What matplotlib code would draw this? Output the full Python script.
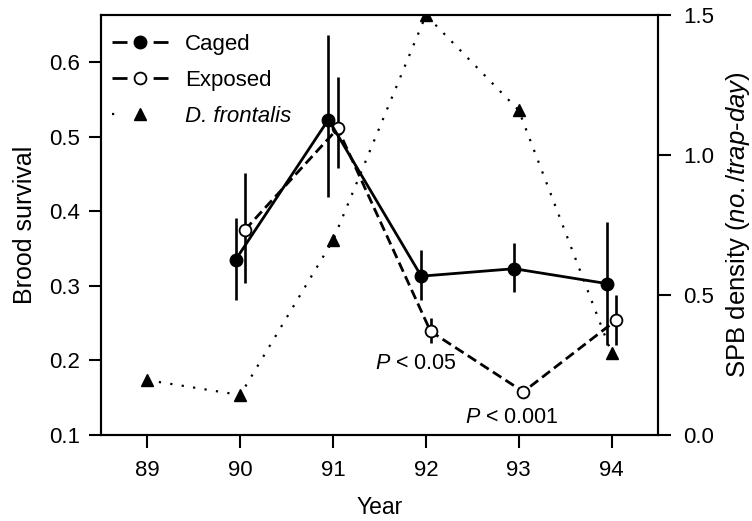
import numpy as np
import matplotlib.pyplot as plt
from matplotlib.lines import Line2D

plt.rcParams['font.family'] = ['Liberation Sans', 'DejaVu Sans']
plt.rcParams['mathtext.fontset'] = 'custom'
plt.rcParams['mathtext.rm'] = 'Liberation Sans'
plt.rcParams['mathtext.it'] = 'Liberation Sans:italic'

# data
years = [89, 90, 91, 92, 93, 94]
survival_years = [90, 91, 92, 93, 94]

caged = [0.335, 0.523, 0.313, 0.323, 0.303]
caged_lo = [0.281, 0.419, 0.281, 0.292, 0.221]
caged_hi = [0.391, 0.636, 0.348, 0.357, 0.386]

exposed = [0.375, 0.511, 0.239, 0.158, 0.254]
exposed_lo = [0.304, 0.458, 0.223, 0.150, 0.221]
exposed_hi = [0.451, 0.580, 0.257, 0.166, 0.288]

spb_density = [0.196, 0.143, 0.696, 1.50, 1.16, 0.293]

fig = plt.figure(figsize=(7.52, 5.21), dpi=100)
ax = fig.add_axes([0.1343, 0.165, 0.7407, 0.806])
ax2 = ax.twinx()

# SPB density on the right axis, drawn underneath
ax2.plot(years, spb_density, color='black', lw=1.6, linestyle=(0, (1, 4.2)))
ax2.plot(years, spb_density, color='black', lw=0, marker='^', markersize=9)
ax2.set_ylim(0, 1.5)
ax2.set_yticks([0.0, 0.5, 1.0, 1.5])
ax2.set_yticklabels(['0.0', '0.5', '1.0', '1.5'])
ax2.set_ylabel(r'SPB density ($\it{no./trap}$-$\it{day}$)', fontsize=18.5, labelpad=7)

ax.set_zorder(ax2.get_zorder() + 1)
ax.patch.set_visible(False)

xc = np.array(survival_years) - 0.05
xe = np.array(survival_years) + 0.05

ax.vlines(xc, caged_lo, caged_hi, color='black', lw=1.9)
ax.vlines(xe, exposed_lo, exposed_hi, color='black', lw=1.9)
ax.plot(xe, exposed, color='black', lw=2, dashes=(3.6, 1.8), marker='o', markersize=8.5,
        markerfacecolor='white', markeredgecolor='black', markeredgewidth=1.3)
ax.plot(xc, caged, color='black', lw=2, marker='o', markersize=9,
        markerfacecolor='black')

ax.set_xlim(88.5, 94.5)
ax.set_ylim(0.1, 0.663)
ax.set_xticks(years)
ax.set_yticks([0.1, 0.2, 0.3, 0.4, 0.5, 0.6])
ax.set_yticklabels(['0.1', '0.2', '0.3', '0.4', '0.5', '0.6'])
ax.set_xlabel('Year', fontsize=16.5, labelpad=11)
ax.set_ylabel('Brood survival', fontsize=18, labelpad=9)

for a in (ax, ax2):
    a.tick_params(labelsize=16, length=9, width=1.5, direction='out')
    for s in a.spines.values():
        s.set_linewidth(1.5)
ax.tick_params(axis='y', pad=6)
ax.tick_params(axis='x', pad=9)
ax2.tick_params(axis='y', pad=9)

ax.text(91.89, 0.1965, r'$\it{P}$ < 0.05', fontsize=15.5, ha='center', va='center')
ax.text(92.92, 0.124, r'$\it{P}$ < 0.001', fontsize=15.5, ha='center', va='center')

handles = [
    Line2D([], [], color='black', lw=2, dashes=(5.4, 9.4), marker='o', markersize=9),
    Line2D([], [], color='black', lw=2, dashes=(5.4, 9.4), marker='o', markersize=8.5,
           markerfacecolor='white', markeredgewidth=1.3),
    Line2D([], [], color='black', lw=1.6, linestyle=(0, (1, 12)), marker='^', markersize=9),
]
leg = ax.legend(handles, ['Caged', 'Exposed', 'D. frontalis'], loc='upper left',
                bbox_to_anchor=(-0.01, 0.995), frameon=False, fontsize=16,
                handlelength=2.5, labelspacing=0.68, borderaxespad=0.35,
                handletextpad=0.77)
leg.get_texts()[2].set_fontstyle('italic')

fig.savefig('out.png', dpi=100)
